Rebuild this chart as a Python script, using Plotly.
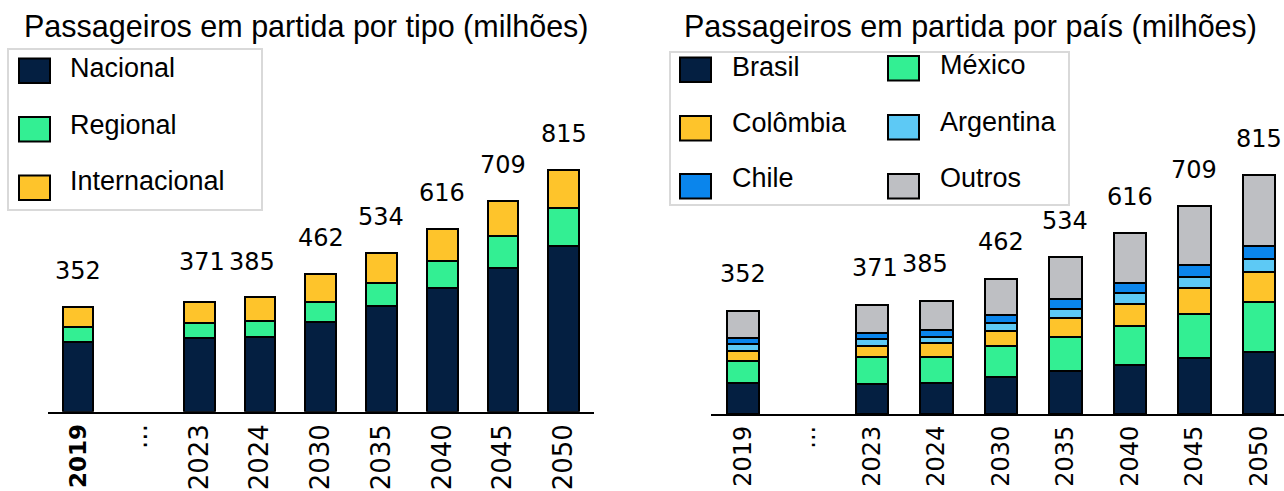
import plotly.graph_objects as go

# ---- data (millions of departing passengers) ----
anos = ["2019", "...", "2023", "2024", "2030", "2035", "2040", "2045", "2050"]
totais = [352, None, 371, 385, 462, 534, 616, 709, 815]

# by type
nacional = [236, None, 247, 252, 303, 355, 415, 485, 557]
regional = [50, None, 52, 54, 65, 77, 92, 105, 130]
internacional = [66, None, 72, 79, 94, 102, 109, 119, 128]

# by country
brasil = [105, None, 102, 105, 128, 146, 166, 191, 211]
mexico = [76, None, 92, 91, 103, 118, 135, 150, 170]
colombia = [36, None, 37, 45, 53, 64, 76, 88, 103]
argentina = [23, None, 24, 22, 28, 31, 35, 40, 45]
chile = [21, None, 22, 23, 26, 32, 35, 40, 45]
outros = [91, None, 94, 99, 124, 143, 169, 200, 241]

ticks_esq = ["<b><span style='font-size:23px'>2019</span></b>"] + anos[1:]
ticks_dir = anos

NAVY = "#041f41"
GREEN = "#33ef93"
YELLOW = "#fec42b"
SKY = "#5dc9f5"
BLUE = "#0a85ec"
GRAY = "#bebfc3"

W, H = 1284, 491
LABEL_FONT = "Liberation Sans, Arial, sans-serif"
NUM_FONT = "DejaVu Sans, sans-serif"


def px(x):
    return x / W


def py(y):
    return 1 - y / H


fig = go.Figure()

serie_tipo = [("Nacional", nacional, NAVY), ("Regional", regional, GREEN),
              ("Internacional", internacional, YELLOW)]
serie_pais = [("Brasil", brasil, NAVY), ("México", mexico, GREEN),
              ("Colômbia", colombia, YELLOW), ("Argentina", argentina, SKY),
              ("Chile", chile, BLUE), ("Outros", outros, GRAY)]

for nome, vals, cor in serie_tipo:
    fig.add_trace(go.Bar(x=anos, y=vals, name=nome, xaxis="x", yaxis="y",
                         width=0.505, marker=dict(color=cor, line=dict(color="black", width=2)),
                         showlegend=False, hoverinfo="skip"))

for nome, vals, cor in serie_pais:
    fig.add_trace(go.Bar(x=anos, y=vals, name=nome, xaxis="x2", yaxis="y2",
                         width=0.507, marker=dict(color=cor, line=dict(color="black", width=2)),
                         showlegend=False, hoverinfo="skip"))

annotations = []
shapes = []

# totals above the bars (category axes take the category index as position)
ajuste_esq = {"371": (3, 40), "385": (-8, 35)}
ajuste_dir = {"371": (3, 37), "385": (-11, 37)}
for i, tot in enumerate(totais):
    if tot is None:
        continue
    dx, dy = ajuste_esq.get(str(tot), (0, 36))
    annotations.append(dict(x=i, y=tot, xref="x", yref="y", text=str(tot), showarrow=False,
                            xshift=dx, yshift=dy, yanchor="middle",
                            font=dict(family=NUM_FONT, size=24, color="black")))
    dx, dy = ajuste_dir.get(str(tot), (0, 36.5))
    annotations.append(dict(x=i, y=tot, xref="x2", yref="y2", text=str(tot), showarrow=False,
                            xshift=dx, yshift=dy, yanchor="middle",
                            font=dict(family=NUM_FONT, size=24, color="black")))

# panel titles
annotations.append(dict(x=px(22), y=py(27), xref="paper", yref="paper", xanchor="left",
                        yanchor="middle", showarrow=False,
                        text="Passageiros em partida por tipo (milhões)",
                        font=dict(family=LABEL_FONT, size=30.5, color="black")))
annotations.append(dict(x=px(682), y=py(27), xref="paper", yref="paper", xanchor="left",
                        yanchor="middle", showarrow=False,
                        text="Passageiros em partida por país (milhões)",
                        font=dict(family=LABEL_FONT, size=30.5, color="black")))

# legend boxes
shapes.append(dict(type="rect", xref="paper", yref="paper", x0=px(8), x1=px(262),
                   y0=py(210), y1=py(49), line=dict(color="#d9d9d9", width=2),
                   fillcolor="white", layer="above"))
shapes.append(dict(type="rect", xref="paper", yref="paper", x0=px(670), x1=px(1069),
                   y0=py(205), y1=py(52), line=dict(color="#d9d9d9", width=2),
                   fillcolor="white", layer="above"))


def item_legenda(nome, cor, sx, sy, tx, ty):
    shapes.append(dict(type="rect", xref="paper", yref="paper", x0=px(sx), x1=px(sx + 31),
                       y0=py(sy + 24.5), y1=py(sy), fillcolor=cor,
                       line=dict(color="black", width=2), layer="above"))
    annotations.append(dict(x=px(tx), y=py(ty), xref="paper", yref="paper", xanchor="left",
                            yanchor="middle", showarrow=False, text=nome,
                            font=dict(family=LABEL_FONT, size=27, color="black")))


pos_tipo = [(19, 58.5, 68, 68), (19, 117, 68, 125), (19, 175.5, 68, 181)]
for (nome, _, cor), (sx, sy, tx, ty) in zip(serie_tipo, pos_tipo):
    item_legenda(nome, cor, sx, sy, tx, ty)

pos_pais = [(680, 57.5, 730, 67), (888, 56, 938, 65),
            (680, 116, 730, 123), (888, 115, 938, 122),
            (680, 174, 730, 178), (888, 174, 938, 178)]
for (nome, _, cor), (sx, sy, tx, ty) in zip(serie_pais, pos_pais):
    item_legenda(nome, cor, sx, sy, tx, ty)

eixo_x = dict(type="category", showline=True, linecolor="black", linewidth=2, ticks="",
              tickangle=-90, showgrid=False, zeroline=False, fixedrange=True)
eixo_y = dict(visible=False, showgrid=False, zeroline=False, fixedrange=True)

fig.update_layout(
    width=W, height=H,
    margin=dict(l=0, r=0, t=0, b=0),
    paper_bgcolor="white", plot_bgcolor="white",
    barmode="stack",
    xaxis=dict(eixo_x, domain=[px(47.5), px(594)], range=[-0.5, 8.5], anchor="y",
               tickmode="array", tickvals=anos, ticktext=ticks_esq,
               tickfont=dict(family=NUM_FONT, size=26, color="black")),
    yaxis=dict(eixo_y, domain=[py(411.7), 1], range=[0, 411.7 / 0.297], anchor="x"),
    xaxis2=dict(eixo_x, domain=[px(710.7), 1], range=[-0.5, -0.5 + (W - 710.7) / 64.5],
                anchor="y2", tickmode="array", tickvals=anos, ticktext=ticks_dir,
                tickfont=dict(family=NUM_FONT, size=24, color="black")),
    yaxis2=dict(eixo_y, domain=[py(414.2), 1], range=[0, 414.2 / 0.2935], anchor="x2"),
    annotations=annotations,
    shapes=shapes,
    showlegend=False,
)

fig.write_html("out.html")
